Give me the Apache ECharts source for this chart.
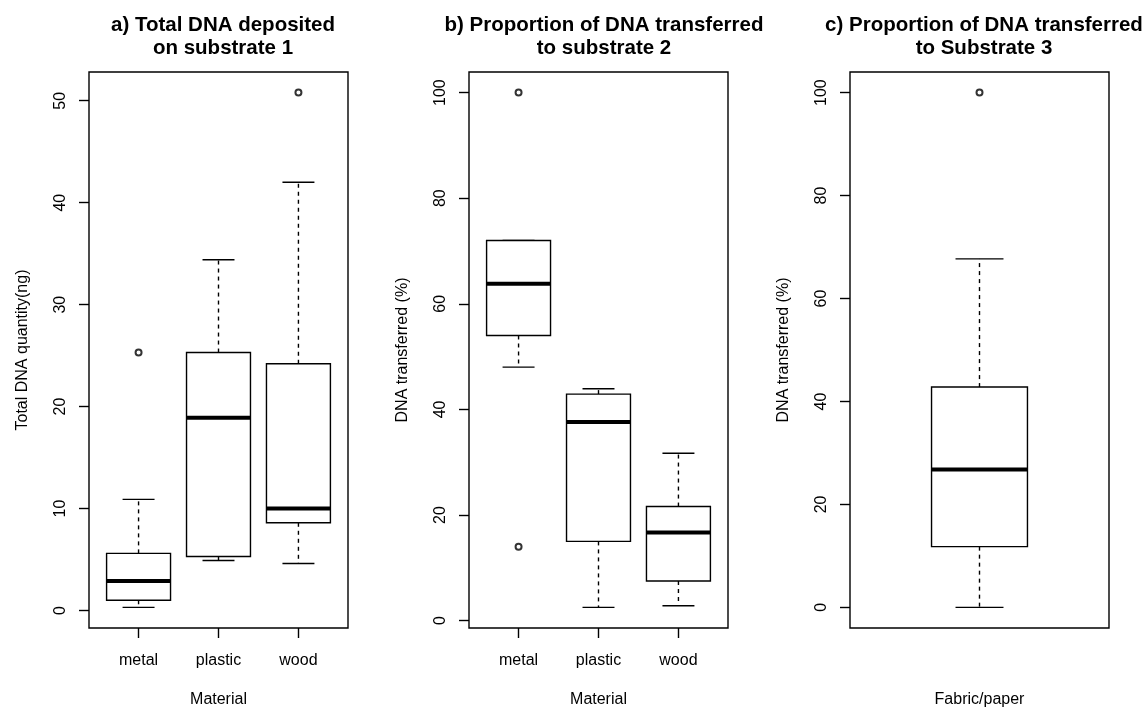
<!DOCTYPE html>
<html>
<head>
<meta charset="utf-8">
<script src="https://cdn.jsdelivr.net/npm/echarts@6/dist/echarts.min.js"></script>
<style>
html, body { margin: 0; padding: 0; background: #fff; }
#charts { width: 1144px; height: 708px; }
</style>
</head>
<body>
<div id="charts"></div>
<script>
// box stats per group: [lower whisker, Q1, median, Q3, upper whisker]
var materials = ['metal', 'plastic', 'wood'];
var depositedStats = [
	[0.3, 1.0, 2.9, 5.6, 10.9],
	[4.9, 5.3, 18.9, 25.3, 34.4],
	[4.6, 8.6, 10.0, 24.2, 42.0]
];
// outliers: [group index, value]
var depositedOutliers = [[0, 25.3], [2, 50.8]];

var transfer2Stats = [
	[48.0, 54.0, 63.8, 72.0, 72.0],
	[2.5, 15.0, 37.6, 42.9, 43.9],
	[2.8, 7.5, 16.7, 21.6, 31.7]
];
var transfer2Outliers = [[0, 100], [0, 14.0]];

var transfer3Stats = [[0, 11.8, 26.8, 42.8, 67.7]];
var transfer3Outliers = [[0, 100]];

var ticksA = [0, 10, 20, 30, 40, 50];
var ticksBC = [0, 20, 40, 60, 80, 100];

var FONT = '"Liberation Sans", Helvetica, Arial, sans-serif';

function toBoxData(stats){
	return stats.map(function(s, i){ return [i + 1].concat(s); });
}
function toPointData(out){
	return out.map(function(o){ return [o[0] + 1, o[1]]; });
}

function boxRenderer(halfWidth){
	return function(params, api){
		var x = api.value(0);
		var lo = api.coord([x, api.value(1)]);
		var q1 = api.coord([x, api.value(2)]);
		var md = api.coord([x, api.value(3)]);
		var q3 = api.coord([x, api.value(4)]);
		var hi = api.coord([x, api.value(5)]);
		var hw = api.size([halfWidth, 0])[0];
		var cw = hw / 2;
		var cx = lo[0];
		var solid = { stroke: '#000', lineWidth: 1.4 };
		var dashed = { stroke: '#000', lineWidth: 1.4, lineDash: [4, 4] };
		var kids = [];
		if (hi[1] < q3[1]) {
			kids.push({ type: 'line', shape: { x1: cx, y1: q3[1], x2: cx, y2: hi[1] }, style: dashed });
		}
		if (lo[1] > q1[1]) {
			kids.push({ type: 'line', shape: { x1: cx, y1: q1[1], x2: cx, y2: lo[1] }, style: dashed });
		}
		kids.push({ type: 'line', shape: { x1: cx - cw, y1: hi[1], x2: cx + cw, y2: hi[1] }, style: solid });
		kids.push({ type: 'line', shape: { x1: cx - cw, y1: lo[1], x2: cx + cw, y2: lo[1] }, style: solid });
		kids.push({ type: 'rect', shape: { x: cx - hw, y: q3[1], width: hw * 2, height: q1[1] - q3[1] },
			style: { fill: '#fff', stroke: '#000', lineWidth: 1.4 } });
		kids.push({ type: 'line', shape: { x1: cx - hw, y1: md[1], x2: cx + hw, y2: md[1] },
			style: { stroke: '#000', lineWidth: 4 } });
		return { type: 'group', children: kids };
	};
}

function makeX(idx, min, max, name, showTicks){
	return {
		type: 'value', gridIndex: idx, min: min, max: max,
		name: name, nameLocation: 'middle', nameGap: 64,
		nameTextStyle: { fontFamily: FONT, fontSize: 16, color: '#000' },
		splitLine: { show: false },
		axisLine: { show: false, onZero: false },
		axisTick: { show: showTicks, length: 10, customValues: [1, 2, 3],
			lineStyle: { color: '#000', width: 1.4 } },
		axisLabel: { show: showTicks, customValues: [1, 2, 3], margin: 25,
			fontFamily: FONT, fontSize: 16, color: '#000',
			formatter: function(v){ return materials[Math.round(v) - 1] || ''; } }
	};
}
function makeY(idx, min, max, name, ticks){
	return {
		type: 'value', gridIndex: idx, min: min, max: max,
		name: name, nameLocation: 'middle', nameGap: 58,
		nameTextStyle: { fontFamily: FONT, fontSize: 16, color: '#000' },
		splitLine: { show: false },
		axisLine: { show: false, onZero: false },
		axisTick: { show: true, length: 10, customValues: ticks,
			lineStyle: { color: '#000', width: 1.4 } },
		axisLabel: { customValues: ticks, rotate: 90, margin: 20,
			fontFamily: FONT, fontSize: 16, color: '#000' }
	};
}
function makeTitle(text, cx){
	return {
		text: text, left: cx, top: 9, textAlign: 'center',
		textStyle: { fontFamily: FONT, fontSize: 20.5, fontWeight: 'bold', color: '#000', lineHeight: 23 }
	};
}
function outlierSeries(idx, data){
	return {
		type: 'scatter', xAxisIndex: idx, yAxisIndex: idx, data: data,
		symbol: 'emptyCircle', symbolSize: 6, silent: true,
		itemStyle: { color: '#000', borderColor: '#000', borderWidth: 1.4 }
	};
}

var grids = [
	{ left: 89, top: 72, width: 259, height: 556 },
	{ left: 469, top: 72, width: 259, height: 556 },
	{ left: 850, top: 72, width: 259, height: 556 }
];
grids.forEach(function(g){
	g.show = true; g.borderColor = '#000'; g.borderWidth = 1.4; g.backgroundColor = 'transparent';
	g.containLabel = false;
	g.outerBoundsMode = 'none';
});

var options = {
	animation: false,
	backgroundColor: '#fff',
	title: [
		makeTitle('a) Total DNA deposited\non substrate 1', 218),
		makeTitle('b) Proportion of DNA transferred\nto substrate 2', 599),
		makeTitle('c) Proportion of DNA transferred\nto Substrate 3', 979)
	],
	grid: grids,
	xAxis: [
		makeX(0, 0.38, 3.62, 'Material', true),
		makeX(1, 0.38, 3.62, 'Material', true),
		makeX(2, 0.46, 1.54, 'Fabric/paper', false)
	],
	yAxis: [
		makeY(0, -1.72, 52.82, 'Total DNA quantity(ng)', ticksA),
		makeY(1, -1.4, 103.9, 'DNA transferred (%)', ticksBC),
		makeY(2, -4, 104, 'DNA transferred (%)', ticksBC)
	],
	series: [
		{ type: 'custom', xAxisIndex: 0, yAxisIndex: 0, data: toBoxData(depositedStats), renderItem: boxRenderer(0.4), silent: true },
		outlierSeries(0, toPointData(depositedOutliers)),
		{ type: 'custom', xAxisIndex: 1, yAxisIndex: 1, data: toBoxData(transfer2Stats), renderItem: boxRenderer(0.4), silent: true },
		outlierSeries(1, toPointData(transfer2Outliers)),
		{ type: 'custom', xAxisIndex: 2, yAxisIndex: 2, data: toBoxData(transfer3Stats), renderItem: boxRenderer(0.2), silent: true },
		outlierSeries(2, toPointData(transfer3Outliers))
	]
};

var charts = echarts.init(document.getElementById('charts'));
charts.setOption(options);
</script>
</body>
</html>
